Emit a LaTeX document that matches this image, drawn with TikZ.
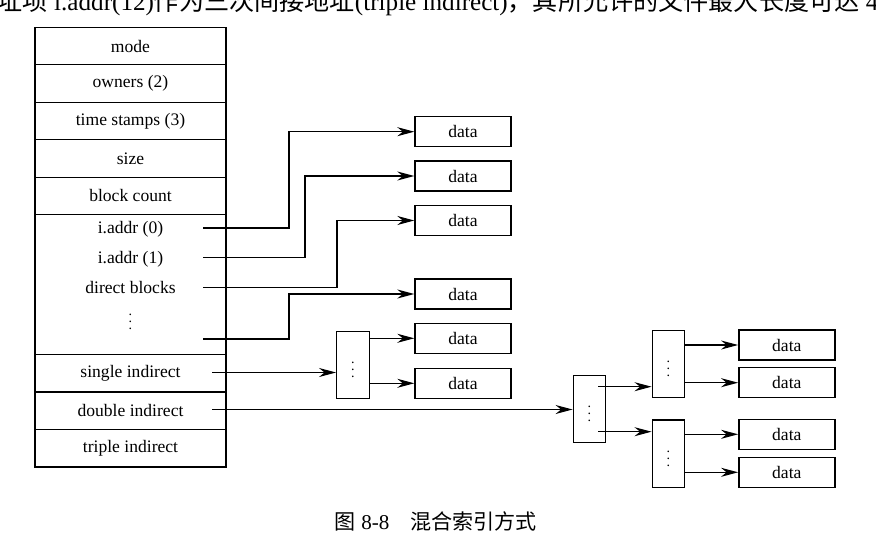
\documentclass[tikz,border=0pt]{standalone}
\usepackage{fontspec}
\setmainfont{Liberation Serif}
\newfontfamily\cjk{Noto Sans CJK SC}
\usetikzlibrary{arrows.meta, positioning}

\begin{document}
\begin{tikzpicture}[x=0.02cm, y=-0.02cm, font=\fontsize{10}{12}\selectfont,
	line width=0.8pt, >={Stealth[length=3.4mm, width=1.8mm, inset=1.1mm]},
	field/.style={draw, minimum width=3.82cm, minimum height=0.75cm, inner sep=0pt, outer sep=0pt},
	datablk/.style={draw, minimum width=1.92cm, minimum height=0.6cm, inner sep=0pt},
	idx/.style={draw, minimum width=0.65cm, minimum height=1.35cm, inner sep=0pt, font=\fontsize{8}{9}\selectfont},
	dots/.style={inner sep=0pt, font=\fontsize{8}{9}\selectfont}]
	\useasboundingbox (0,0) rectangle (876,558);
	\clip (0,0) rectangle (876,558);
	
	% cut line of the page text above
	\node [anchor=base west, inner sep=0pt] (body) at (-3,10)
	{\fontsize{14.3}{16}\selectfont{\cjk 址项} i.addr(12){\cjk 作为三次间接地址}(triple indirect){\cjk ，其所允许的文件最大长度可达} 4};
	
	% inode
	\node [field] (mode) at (130.5,46) {mode};
	\node [field, below=0pt of mode] (owners) {owners (2)};
	\node [field, below=0pt of owners] (stamps) {time stamps (3)};
	\node [field, below=0pt of stamps] (size) {size};
	\node [field, below=0pt of size] (count) {block count};
	\node [field, minimum height=2.8cm, below=0pt of count] (direct) {};
	\node [field, below=0pt of direct] (single) {single indirect};
	\node [field, below=0pt of single] (double) {double indirect};
	\node [field, below=0pt of double] (triple) {triple indirect};
	
	\node (addr0) at (130.5,229) {i.addr (0)};
	\node (addr1) at (130.5,259) {i.addr (1)};
	\node (dblk) at (130.5,287) {direct blocks};
	\node [dots] (ddots) at (130.5,317) {$\vdots$};
	
	\coordinate (s0) at (203,228);
	\coordinate (s1) at (203,257.5);
	\coordinate (s2) at (203,287.5);
	\coordinate (s3) at (203,339);
	\coordinate (s4) at (212,372.5);
	\coordinate (s5) at (212,409.5);
	
	% direct blocks
	\node [datablk] (d0) at (463,131.7) {data};
	\node [datablk] (d1) at (463,176) {data};
	\node [datablk] (d2) at (463,220.5) {data};
	\node [datablk] (d3) at (463,294) {data};
	
	\draw[->] (s0) -- ++(86,0) |- (d0.west);
	\draw[->] (s1) -- ++(102,0) |- (d1.west);
	\draw[->] (s2) -- ++(134,0) |- (d2.west);
	\draw[->] (s3) -- ++(86,0) |- (d3.west);
	
	% single indirect
	\node [idx] (ind1) at (353,365) {$\vdots$};
	\node [datablk] (d4) at (463,338.3) {data};
	\node [datablk] (d5) at (463,383.3) {data};
	
	\draw[->] (s4) -- (s4 -| ind1.west);
	\draw[->] (ind1.east |- d4) -- (d4.west);
	\draw[->] (ind1.east |- d5) -- (d5.west);
	
	% double indirect
	\node [idx] (ind2) at (589.5,409) {$\vdots$};
	\node [idx] (ind2a) at (668.5,364) {$\vdots$};
	\node [idx] (ind2b) at (668.5,453.7) {$\vdots$};
	\node [datablk] (d6) at (786.8,345) {data};
	\node [datablk] (d7) at (786.8,382.7) {data};
	\node [datablk] (d8) at (786.8,434.3) {data};
	\node [datablk] (d9) at (786.8,472.3) {data};
	
	\coordinate (t0) at (598,386.7);
	\coordinate (t1) at (598,431.7);
	
	\draw[->] (s5) -- (s5 -| ind2.west);
	\draw[->] (t0) -- (t0 -| ind2a.west);
	\draw[->] (t1) -- (t1 -| ind2b.west);
	\foreach \d/\s in {d6/ind2a, d7/ind2a, d8/ind2b, d9/ind2b}
		\draw[->] (\s.east |- \d) -- (\d.west);
	
	\node (cap) at (436,521)
	{\fontsize{12}{14}\selectfont{\cjk 图} 8-8\quad{\cjk 混合索引方式}};
\end{tikzpicture}
\end{document}
